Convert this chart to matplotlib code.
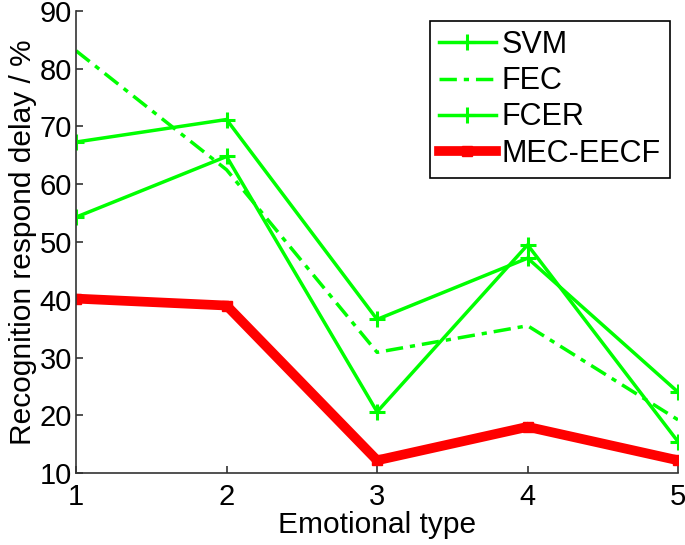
import matplotlib
matplotlib.use("Agg")
import matplotlib.pyplot as plt

# ---- data ----
emotion_type = [1, 2, 3, 4, 5]
svm = [67.3, 71.2, 36.6, 47.2, 24.0]
fec = [83.1, 62.5, 30.9, 35.5, 19.2]
fcer = [54.3, 64.8, 20.6, 49.5, 15.4]
mec_eecf = [40.2, 39.0, 12.2, 18.0, 12.2]

y_ticks = [10, 20, 30, 40, 50, 60, 70, 80, 90]

plt.rcParams["font.family"] = ["Liberation Sans", "DejaVu Sans"]

fig = plt.figure(figsize=(6.85, 5.45), dpi=100)
ax = fig.add_axes([0.111, 0.132, 0.879, 0.848])

green = "#00ff00"
ax.plot(emotion_type, svm, color=green, lw=2.5, marker="+", ms=11, mew=2.2, label="SVM")
ax.plot(emotion_type, fec, color=green, lw=2.5, ls=(0, (5, 2, 1.5, 2)), label="FEC")
ax.plot(emotion_type, fcer, color=green, lw=2.5, marker="+", ms=11, mew=2.2, label="FCER")
ax.plot(emotion_type, mec_eecf, color="#ff0000", lw=7, marker="s", ms=7, mew=1,
        solid_joinstyle="miter", label="MEC-EECF")

ax.set_xlim(1, 5)
ax.set_ylim(10, 90)
ax.set_xticks(emotion_type)
ax.set_yticks(y_ticks)

for s in ["top", "right"]:
    ax.spines[s].set_visible(False)
for s in ["left", "bottom"]:
    ax.spines[s].set_color("#333333")
    ax.spines[s].set_linewidth(1.2)
ax.tick_params(direction="in", length=5, width=1.2, color="#333333",
               labelsize=21, pad=3)
ax.tick_params(axis="x", pad=7)

ax.set_xlabel("Emotional type", fontsize=21.5, labelpad=0)
ax.set_ylabel("Recognition respond delay / %", fontsize=21.5, labelpad=2)

leg = ax.legend(loc="upper right", bbox_to_anchor=(670 / 685, 1 - 21 / 545),
                bbox_transform=fig.transFigure, fontsize=22, fancybox=False,
                framealpha=1, edgecolor="black", handlelength=1.85,
                handletextpad=0.2, labelspacing=0.2, borderpad=0.3,
                borderaxespad=0)
leg.get_frame().set_linewidth(1.2)

fig.savefig("out.png", dpi=100)
